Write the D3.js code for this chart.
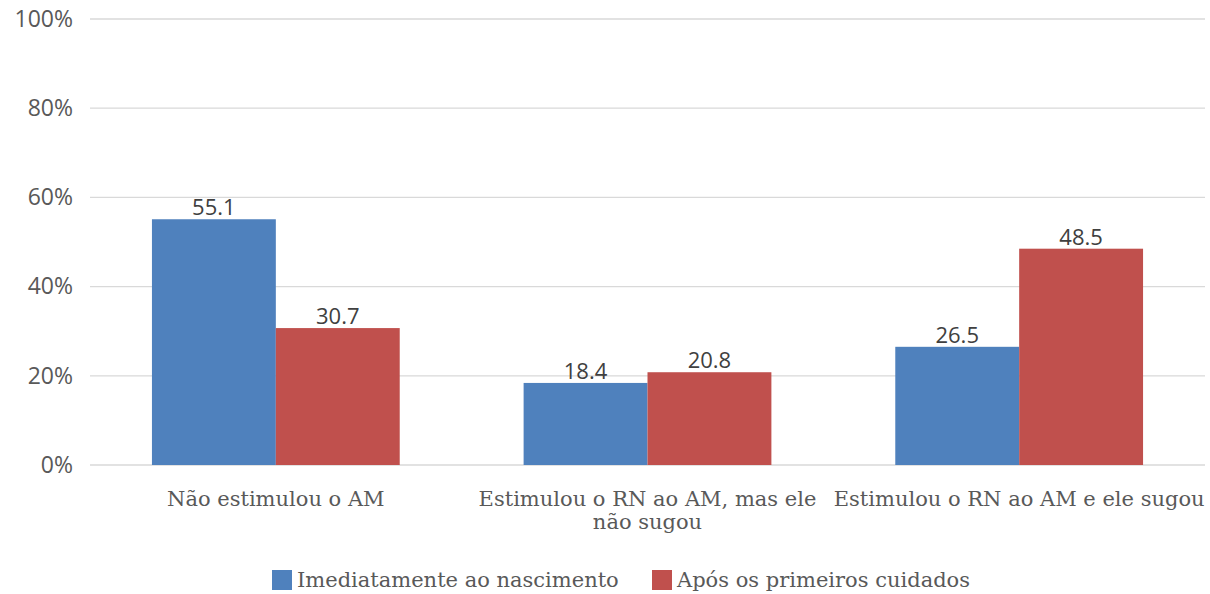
<!DOCTYPE html>
<html>
<head>
<meta charset="utf-8">
<script src="https://cdn.jsdelivr.net/npm/d3@7"></script>
<style>
  body { margin: 0; background: #fff; }
</style>
</head>
<body>
<svg id="chart" width="1210" height="594"></svg>
<script>
// data
var categories = [["Não estimulou o AM"], ["Estimulou o RN ao AM, mas ele", "não sugou"], ["Estimulou o RN ao AM e ele sugou"]];
var seriesNames = ["Imediatamente ao nascimento", "Após os primeiros cuidados"];
var imediatamente = [55.1, 18.4, 26.5];
var aposCuidados = [30.7, 20.8, 48.5];
var yTicks = [0, 20, 40, 60, 80, 100];
var colors = ["#4f81bd", "#c0504d"];

var svg = d3.select("svg#chart");
var margin = {top: 19, right: 5, bottom: 129, left: 90};
var width = +svg.attr("width") - margin.left - margin.right;
var height = +svg.attr("height") - margin.top - margin.bottom;

var sansFont = "'Open Sans', 'DejaVu Sans', sans-serif";
var serifFont = "'DejaVu Serif', serif";

var x = d3.scaleBand()
    .domain(d3.range(categories.length))
    .range([0, width])
    .paddingInner(1/3).paddingOuter(1/6);
var x1 = d3.scaleBand()
    .domain(d3.range(seriesNames.length))
    .range([0, x.bandwidth()]);
var y = d3.scaleLinear()
    .domain([0, 100])
    .range([height, 0]);

var g = svg.append("g")
  .attr("transform", `translate(${margin.left},${margin.top})`);

// gridlines
g.append("g")
  .selectAll("line")
  .data(yTicks)
  .enter().append("line")
  .attr("x1", 0).attr("x2", width)
  .attr("y1", d => y(d)).attr("y2", d => y(d))
  .attr("stroke", "#d9d9d9")
  .attr("stroke-width", 1.3);

// y axis labels
g.append("g")
  .call(d3.axisLeft(y).tickValues(yTicks).tickFormat(d => d + "%").tickSize(0).tickPadding(17))
  .call(a => a.select(".domain").remove())
  .selectAll("text")
  .attr("fill", "#595959")
  .attr("font-size", "23px")
  .attr("font-family", sansFont);

// bars
var series = [imediatamente, aposCuidados];
var groups = g.append("g")
  .selectAll("g")
  .data(categories.map((c, i) => i))
  .enter().append("g")
  .attr("transform", i => `translate(${x(i)},0)`);

groups.selectAll("rect")
  .data(i => series.map((s, k) => ({k: k, v: s[i]})))
  .enter().append("rect")
  .attr("x", d => x1(d.k))
  .attr("y", d => y(d.v))
  .attr("width", x1.bandwidth())
  .attr("height", d => height - y(d.v))
  .attr("fill", d => colors[d.k]);

groups.selectAll("text.val")
  .data(i => series.map((s, k) => ({k: k, v: s[i]})))
  .enter().append("text")
  .attr("class", "val")
  .attr("x", d => x1(d.k) + x1.bandwidth() / 2)
  .attr("y", d => y(d.v) - 4)
  .attr("text-anchor", "middle")
  .attr("fill", "#404040")
  .attr("font-size", "22px")
  .attr("font-family", sansFont)
  .text(d => d.v.toFixed(1));

// category labels
var cat = g.append("g")
  .selectAll("text")
  .data(categories)
  .enter().append("text")
  .attr("x", (d, i) => x(i) + x.bandwidth() / 2)
  .attr("y", height + 41)
  .attr("text-anchor", "middle")
  .attr("fill", "#595959")
  .attr("font-size", "21px")
  .attr("font-family", serifFont);
cat.selectAll("tspan")
  .data(d => d)
  .enter().append("tspan")
  .attr("x", function() { return d3.select(this.parentNode).attr("x"); })
  .attr("dy", (d, i) => i === 0 ? 0 : 23)
  .text(d => d);

// legend
var legendX = [272, 652];
var legend = svg.append("g")
  .selectAll("g")
  .data(seriesNames)
  .enter().append("g")
  .attr("transform", (d, i) => `translate(${legendX[i]},570)`);
legend.append("rect")
  .attr("width", 20).attr("height", 20)
  .attr("fill", (d, i) => colors[i]);
legend.append("text")
  .attr("x", 25).attr("y", 17)
  .attr("fill", "#595959")
  .attr("font-size", "21px")
  .attr("font-family", serifFont)
  .text(d => d);
</script>
</body>
</html>
